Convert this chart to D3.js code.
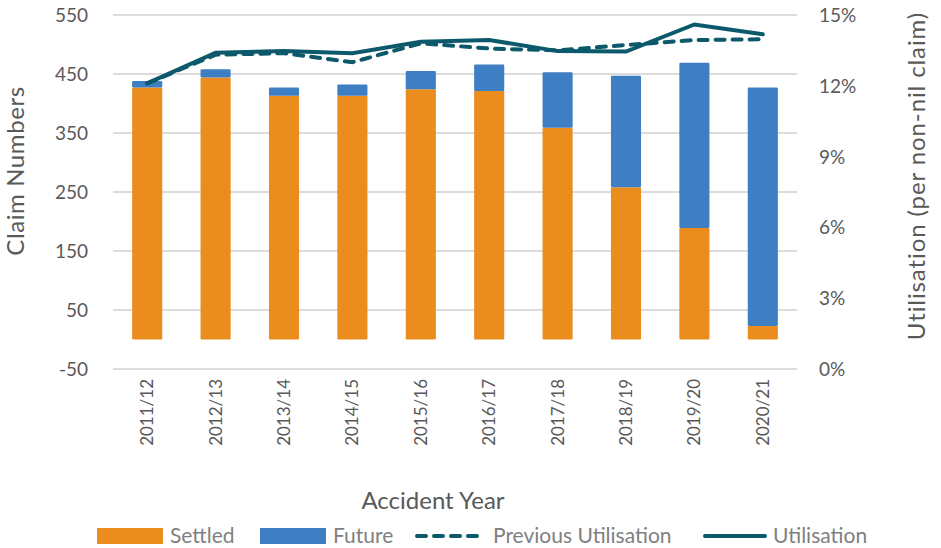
<!DOCTYPE html>
<html>
<head>
<meta charset="utf-8">
<script src="https://cdn.jsdelivr.net/npm/d3@7"></script>
<style>
  html, body { margin: 0; padding: 0; background: #fff; }
  svg text { font-family: Lato, "Open Sans", sans-serif; }
</style>
</head>
<body>
<svg id="chart" width="941" height="548"></svg>
<script>
// Claim counts by accident year
const years = ["2011/12","2012/13","2013/14","2014/15","2015/16","2016/17","2017/18","2018/19","2019/20","2020/21"];
const settled = [427, 444, 413, 413, 424, 421, 359, 258, 189, 23];
const future  = [11, 14, 14, 19, 31, 45, 94, 189, 280, 404];
// Utilisation rates (per non-nil claim)
const utilisation         = [0.121, 0.134, 0.1347, 0.1338, 0.1387, 0.1394, 0.1347, 0.1345, 0.146, 0.1418];
const previousUtilisation = [0.121, 0.1332, 0.1338, 0.130, 0.138, 0.1358, 0.135, 0.1373, 0.1394, 0.1397];
// Axis ticks
const leftTicks  = [-50, 50, 150, 250, 350, 450, 550];
const rightTicks = [0, 0.03, 0.06, 0.09, 0.12, 0.15];

const colors = { settled: "#EA8C1E", future: "#3E7EC2", line: "#0B596B", grid: "#D0D0D0", text: "#595959", legend: "#808080" };

const svg = d3.select("#chart");
const plot = { left: 113, right: 797, top: 15, bottom: 369 };

const x = d3.scaleBand().domain(years).range([plot.left, plot.right]).paddingInner(0.56).paddingOuter(0.28);
const yL = d3.scaleLinear().domain([-50, 550]).range([plot.bottom, plot.top]);
const yR = d3.scaleLinear().domain([0, 0.15]).range([plot.bottom, plot.top]);

// Gridlines
svg.append("g").selectAll("line").data(leftTicks).join("line")
  .attr("x1", plot.left).attr("x2", plot.right)
  .attr("y1", d => yL(d)).attr("y2", d => yL(d))
  .attr("stroke", colors.grid).attr("stroke-width", 1.3);

// Left axis labels (plain hyphen for negatives)
const leftAxis = svg.append("g").attr("transform", `translate(${plot.left - 25},0)`)
  .call(d3.axisLeft(yL).tickValues(leftTicks).tickSize(0).tickPadding(0).tickFormat(d => String(d)));
leftAxis.select(".domain").remove();
leftAxis.selectAll("text").attr("fill", colors.text).style("font-size", "19px").attr("dy", "0.34em");

// Right axis labels
const rightAxis = svg.append("g").attr("transform", `translate(${plot.right + 22},0)`)
  .call(d3.axisRight(yR).tickValues(rightTicks).tickSize(0).tickPadding(0).tickFormat(d3.format(".0%")));
rightAxis.select(".domain").remove();
rightAxis.selectAll("text").attr("fill", colors.text).style("font-size", "19px").attr("dy", "0.34em");

// Stacked bars
const stackData = years.map((y, i) => ({ year: y, settled: settled[i], future: future[i] }));
const series = d3.stack().keys(["settled", "future"])(stackData);
svg.append("g").selectAll("g").data(series).join("g")
  .attr("fill", d => colors[d.key])
  .selectAll("rect").data(d => d).join("rect")
  .attr("x", d => x(d.data.year))
  .attr("width", x.bandwidth())
  .attr("y", d => yL(d[1]))
  .attr("height", d => yL(d[0]) - yL(d[1]))
  .attr("rx", 1.2);

// Utilisation lines
const cx = d => x(d) + x.bandwidth() / 2;
const line = d3.line().x(d => cx(d.year)).y(d => yR(d.v));
svg.append("path")
  .datum(years.map((y, i) => ({ year: y, v: previousUtilisation[i] })))
  .attr("d", line).attr("fill", "none").attr("stroke", colors.line)
  .attr("stroke-width", 4).attr("stroke-dasharray", "9,8").attr("stroke-linecap", "round");
svg.append("path")
  .datum(years.map((y, i) => ({ year: y, v: utilisation[i] })))
  .attr("d", line).attr("fill", "none").attr("stroke", colors.line)
  .attr("stroke-width", 4).attr("stroke-linecap", "round");

// Category labels (rotated)
const xAxis = svg.append("g").attr("transform", `translate(0,${plot.bottom + 8})`)
  .call(d3.axisBottom(x).tickSize(0).tickPadding(0));
xAxis.select(".domain").remove();
xAxis.selectAll("text")
  .attr("fill", colors.text).style("font-size", "17px")
  .attr("transform", "rotate(-90)")
  .attr("text-anchor", "end").attr("x", -2).attr("y", 0).attr("dy", "0.35em");

// Axis titles
svg.append("text").attr("transform", "translate(24,171) rotate(-90)")
  .attr("text-anchor", "middle").attr("fill", colors.text).style("font-size", "24px")
  .style("letter-spacing", "0.6px")
  .text("Claim Numbers");
svg.append("text").attr("transform", "translate(925,176) rotate(-90)")
  .attr("text-anchor", "middle").attr("fill", colors.text).style("font-size", "24px")
  .style("letter-spacing", "0.9px")
  .text("Utilisation (per non-nil claim)");
svg.append("text").attr("x", 433).attr("y", 509)
  .attr("text-anchor", "middle").attr("fill", colors.text).style("font-size", "24px")
  .text("Accident Year");

// Legend
const legendY = 536;
const legend = svg.append("g");
const items = [
  { label: "Settled", type: "rect", color: colors.settled, x: 97, tx: 170 },
  { label: "Future", type: "rect", color: colors.future, x: 260, tx: 333 },
  { label: "Previous Utilisation", type: "dash", color: colors.line, x: 417, tx: 493 },
  { label: "Utilisation", type: "line", color: colors.line, x: 705, tx: 773 }
];
items.forEach(it => {
  if (it.type === "rect") {
    legend.append("rect").attr("x", it.x).attr("y", legendY - 8).attr("width", 66).attr("height", 16).attr("fill", it.color);
  } else {
    legend.append("line").attr("x1", it.x).attr("x2", it.x + 66 - (it.type === "dash" ? 0 : 6)).attr("y1", legendY).attr("y2", legendY)
      .attr("stroke", it.color).attr("stroke-width", 4).attr("stroke-linecap", "round")
      .attr("stroke-dasharray", it.type === "dash" ? "9,8" : null);
  }
  legend.append("text").attr("x", it.tx).attr("y", legendY).attr("dy", "0.35em")
    .attr("fill", colors.legend).style("font-size", "21px").text(it.label);
});
</script>
</body>
</html>
